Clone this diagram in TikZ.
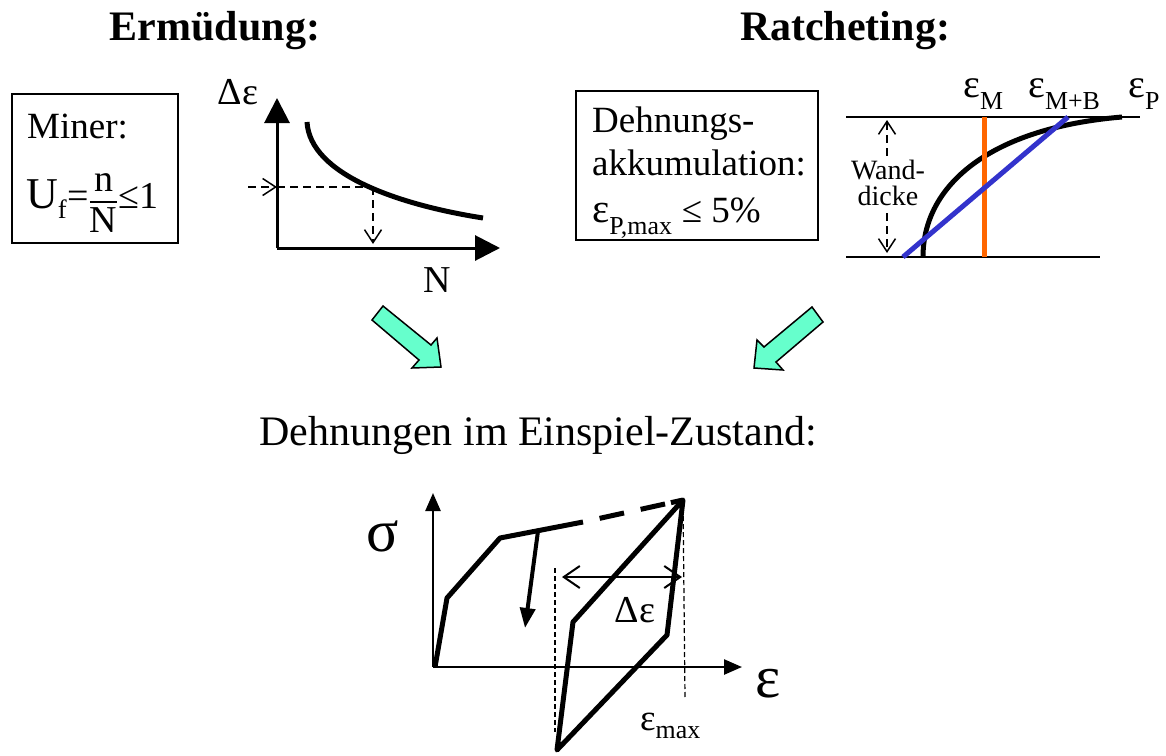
\documentclass[tikz,border=0pt]{standalone}
\usepackage{fontspec}
\setmainfont{Liberation Serif}
\usepackage{amsmath}
\definecolor{ratorange}{RGB}{255,102,0}
\definecolor{ratblue}{RGB}{51,51,204}
\definecolor{arrowgreen}{RGB}{102,255,204}
\usetikzlibrary{arrows.meta}
\newcommand{\lowsub}[1]{\raisebox{-0.12em}{\textsubscript{#1}}}

\begin{document}
\begin{tikzpicture}[
  x=1pt,y=-1pt,
  every node/.style={inner sep=0pt},
  headline/.style={font=\fontsize{42}{48}\selectfont\bfseries},
  bigtext/.style={font=\fontsize{42}{48}\selectfont},
  boxtext/.style={font=\fontsize{37}{44}\selectfont,anchor=base west},
  axislabel/.style={font=\fontsize{38}{44}\selectfont},
  greeklabel/.style={font=\fontsize{60}{66}\selectfont},
  framebox/.style={draw,line width=1.5pt},
  bigaxis/.style={line width=3pt,-{Triangle[length=25pt,width=25pt]}},
  smallaxis/.style={line width=2.5pt,-{Triangle[length=18pt,width=15pt]}},
  helpline/.style={dashed,line width=1.5pt,dash pattern=on 8pt off 5pt},
  barb/.style={-{Straight Barb[length=13pt,width=17pt]}},
  barbs/.style={{Straight Barb[length=13pt,width=17pt]}-{Straight Barb[length=13pt,width=17pt]}},
  curveline/.style={line width=5pt},
  blockarrow/.style={fill=arrowgreen,draw=black,line width=1.5pt,line join=miter},
]
  \useasboundingbox (0,0) rectangle (1166,755);

  % Titles
  \node[headline,anchor=base] (tfatigue) at (215,40) {Ermüdung:};
  \node[headline,anchor=base] (tratchet) at (845,40) {Ratcheting:};

  % Miner box
  \node[framebox,minimum width=166pt,minimum height=149pt] (minerbox) at (95,168.5) {};
  \node[boxtext] (minername) at (27,138) {Miner:};
  \node[boxtext,font=\fontsize{38}{44}\selectfont] (minerrule) at (26,208)
    {{\fontsize{44}{50}\selectfont U}\textsubscript{f}=$\genfrac{}{}{1.6pt}{0}{\text{n}}{\text{N}}$≤1};

  % Fatigue curve
  \coordinate (o1) at (277,248);
  \coordinate (ytip1) at (277,98);
  \coordinate (xtip1) at (500,248);
  \draw[bigaxis] (o1) -- (ytip1);
  \draw[bigaxis] (o1) -- (xtip1);
  \node[axislabel] (deps1) at (238,92) {Δε};
  \node[axislabel] (nlabel) at (437,280) {N};
  \coordinate (hit) at (373,187);
  \coordinate (yhit) at (277,187);
  \coordinate (xhit) at (373,244);
  \coordinate (ystart) at (248,187);
  \draw[curveline] (307,122) .. controls (310,175) and (400,205) .. (483,218);
  \draw[helpline,barb] (ystart) -- (yhit);
  \draw[helpline] (yhit) -- (hit);
  \draw[helpline,barb] (hit) -- (xhit);

  % Ratcheting box
  \node[framebox,minimum width=242pt,minimum height=149pt] (ratchetbox) at (697,165.5) {};
  \node[boxtext] (dehn1) at (592,132) {Dehnungs-};
  \node[boxtext] (dehn2) at (592,175) {akkumulation:};
  \node[boxtext] (dehn3) at (592,222) {{\fontsize{41}{44}\selectfont ε}\lowsub{P,max} ≤ 5\%};

  % Wall strain distribution
  \coordinate (wtl) at (846,117);
  \coordinate (wtr) at (1140,117);
  \coordinate (wbl) at (846,257);
  \coordinate (wbr) at (1100,257);
  \draw[line width=2pt] (wtl) -- (wtr);
  \draw[line width=2pt] (wbl) -- (wbr);
  \draw[helpline,barbs] (887,120) -- (887,253);
  \node[fill=white,inner sep=3pt,align=center,font=\fontsize{28}{26}\selectfont]
    (wand) at (888,183) {Wand-\\dicke};
  \draw[curveline] (923,257) .. controls (923,185) and (990,128) .. (1122,117);
  \draw[curveline,ratorange] (984,117) -- (984,257);
  \draw[curveline,ratblue] (903,257) -- (1068,117);
  \node[boxtext] (epsm) at (963,97) {{\fontsize{40}{44}\selectfont ε}\lowsub{M}};
  \node[boxtext] (epsmb) at (1028,97) {{\fontsize{40}{44}\selectfont ε}\lowsub{M+B}};
  \node[boxtext] (epsp) at (1128,97) {{\fontsize{40}{44}\selectfont ε}\lowsub{P}};

  % Block arrows
  \filldraw[blockarrow] (372,320) -- (383,306) -- (431,345) -- (437,338) -- (441,367)
    -- (412,368) -- (419,360) -- cycle;
  \filldraw[blockarrow] (823,322) -- (812,307) -- (764,347) -- (757,340) -- (754,368)
    -- (783,370) -- (776,362) -- cycle;

  % Shakedown
  \node[bigtext,anchor=base] (shake) at (538,445) {Dehnungen im Einspiel-Zustand:};

  \coordinate (o3) at (433,667);
  \coordinate (ytip3) at (433,493);
  \coordinate (xtip3) at (742,667);
  \draw[smallaxis] (o3) -- (ytip3);
  \draw[smallaxis] (o3) -- (xtip3);
  \node[greeklabel] (sig) at (383,536) {σ};
  \node[greeklabel] (eps) at (768,684) {ε};

  \coordinate (yield) at (583,522);
  \coordinate (peak) at (683,500);
  \draw[curveline,line join=round] (435,667) -- (447,598) -- (500,538) -- (yield);
  \draw[curveline,dash pattern=on 0pt off 17pt on 25pt off 17pt on 25pt off 6pt on 20pt] (yield) -- (peak);
  \draw[curveline,line join=round] (peak) -- (667,635) -- (557,750) -- (573,622) -- cycle;
  \draw[line width=4pt,-{Triangle[length=20pt,width=15pt]}] (538,531) -- (525,628);

  \draw[dashed,line width=1.2pt,dash pattern=on 5pt off 3pt] (555,568) -- (555,732);
  \draw[dashed,line width=1.2pt,dash pattern=on 5pt off 3pt] (peak) -- (685,698);
  \draw[line width=2pt,{Straight Barb[length=16pt,width=22pt]}-{Straight Barb[length=16pt,width=22pt]}]
    (562,577) -- (682,577);
  \node[axislabel] (deps3) at (635,610) {Δε};
  \node[boxtext] (epsmax) at (640,730) {ε\lowsub{max}};
\end{tikzpicture}
\end{document}
